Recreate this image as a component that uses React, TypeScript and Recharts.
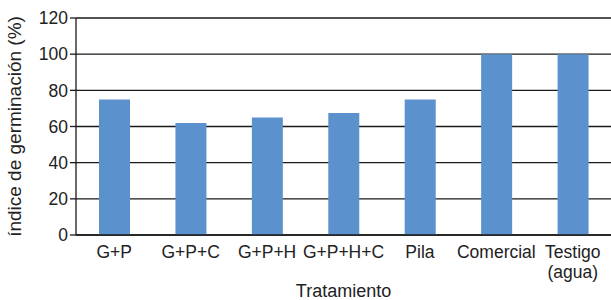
import React from 'react';
import { BarChart, Bar, XAxis, YAxis, CartesianGrid } from 'recharts';

const categories = ['G+P', 'G+P+C', 'G+P+H', 'G+P+H+C', 'Pila', 'Comercial', 'Testigo (agua)'];
const germination = [75, 62, 65, 67.5, 75, 100, 100];
const yTicks = [0, 20, 40, 60, 80, 100, 120];

const data = categories.map((name, i) => ({ name, value: germination[i] }));

const FONT = 'Liberation Sans, Arial, sans-serif';

const CategoryTick = (props: any) => {
    const { x, y, payload } = props;
    const text: string = payload.value;
    const lines = text === 'Testigo (agua)' ? ['Testigo', '(agua)'] : [text];
    return (
        <text x={x} y={y} textAnchor="middle" fontFamily={FONT} fontSize={17.5} fill="#222">
            {lines.map((line, i) => (
                <tspan key={i} x={x} dy={i === 0 ? 15 : 20}>
                    {line}
                </tspan>
            ))}
        </text>
    );
};

export default function App() {
    return (
        <div style={{ position: 'absolute', left: 0, top: 0, background: '#fff' }}>
            <BarChart
                width={611}
                height={300}
                data={data}
                margin={{ top: 18, right: 0, bottom: 20, left: 0 }}
                barCategoryGap="0%"
            >
                <CartesianGrid vertical={false} stroke="#1a1a1a" strokeWidth={1.3} />
                <XAxis
                    dataKey="name"
                    tick={<CategoryTick />}
                    tickLine={false}
                    axisLine={{ stroke: '#1a1a1a', strokeWidth: 1.3 }}
                    interval={0}
                    height={45}
                    label={{
                        value: 'Tratamiento',
                        position: 'insideBottom',
                        offset: -17,
                        style: { fontFamily: FONT, fontSize: 18, fill: '#222' },
                    }}
                />
                <YAxis
                    width={76}
                    domain={[0, 120]}
                    ticks={yTicks}
                    tickSize={6}
                    tickMargin={2}
                    tickLine={{ stroke: '#1a1a1a', strokeWidth: 1.3 }}
                    axisLine={{ stroke: '#1a1a1a', strokeWidth: 1.3 }}
                    tick={{ fontFamily: FONT, fontSize: 17.5, fill: '#222' }}
                    label={{
                        value: 'índice de germinación (%)',
                        angle: -90,
                        position: 'insideLeft',
                        offset: 14,
                        style: { fontFamily: FONT, fontSize: 19, fill: '#222', textAnchor: 'middle' },
                    }}
                />
                <Bar dataKey="value" fill="#5B92CE" barSize={31} isAnimationActive={false} />
            </BarChart>
        </div>
    );
}
